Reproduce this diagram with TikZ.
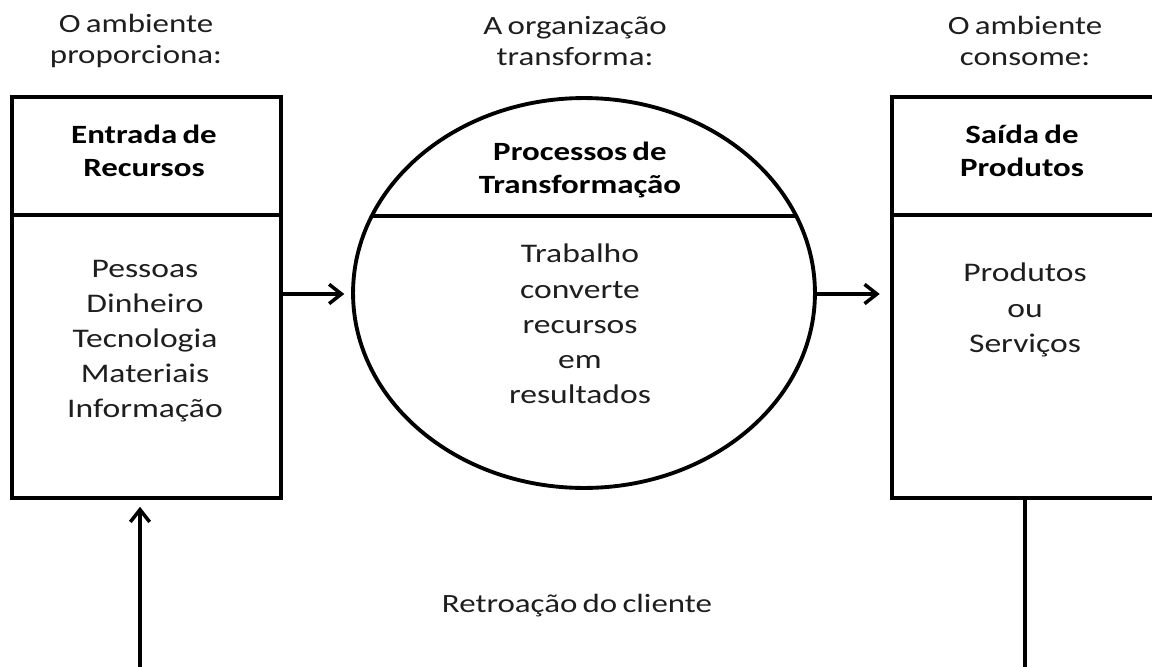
\documentclass[tikz,border=0pt]{standalone}
\usepackage{fontspec}
\setmainfont{Carlito}[FakeStretch=1.25,WordSpace=0.7]
\usepackage{xcolor}
\definecolor{Col1}{RGB}{30,30,30}
\usepackage{tikz}
\usetikzlibrary{shapes}
\usetikzlibrary{fit}
\usetikzlibrary{arrows.meta}
\tikzstyle{Box}=[draw,line width=2.2pt,inner sep=0pt,outer sep=0pt]
\tikzstyle{Oval}=[ellipse,draw,line width=2.2pt,inner sep=0pt,outer sep=0pt,
minimum width=9.24cm,minimum height=7.8cm]
\tikzstyle{Edge}=[line width=2.2pt]
\tikzstyle{Arrow}=[line width=2pt,-{Straight Barb[length=7pt,width=11pt]}]
\tikzstyle{NodeHead}=[font=\fontsize{15}{17.6}\selectfont,text=Col1,align=center]
\tikzstyle{NodeTitle}=[font=\fontsize{15}{18.7}\selectfont\bfseries,align=center]
\tikzstyle{NodeBody}=[font=\fontsize{15.3}{20}\selectfont,text=Col1,align=center]

\begin{document}
\begin{tikzpicture}[x=0.02cm,y=-0.02cm]
        \useasboundingbox(0,0)rectangle(1152,666);
        \clip(0,0)rectangle(1152,666);
        \node[NodeHead](h1)at(136,41){O ambiente\\proporciona:};
        \node[NodeHead](h2)at(575,41){A organização\\transforma:};
        \node[NodeHead](h3)at(1025,41){O ambiente\\consome:};
        \node[Box,fit={(12,97)(281,498)}](In){};
        \node[Oval](Proc)at(584,293){};
        \node[Box,fit={(892,97)(1158,498)}](Out){};
        \draw[Edge](In.west|-0,215)--(In.east|-0,215);
        \draw[Edge](Proc.160)--(Proc.20);
        \draw[Edge](Out.west|-0,215)--(Out.east|-0,215);
        \node[NodeTitle](t1)at(144,151){Entrada de\\Recursos};
        \node[NodeTitle](t2)at(580,170){Processos de\\Transformação};
        \node[NodeTitle](t3)at(1022,151){Saída de\\Produtos};
        \node[NodeBody](b1)at(145,341){Pessoas\\Dinheiro\\Tecnologia\\Materiais\\Informação};
        \node[NodeBody](b2)at(580,324){Trabalho\\converte\\recursos\\em\\resultados};
        \node[NodeBody](b3)at(1025,310){Produtos\\ou\\Serviços};
        \draw[Arrow,shorten >=5pt](In.east|-0,294)--(Proc.west|-0,294);
        \draw[Arrow,shorten >=7pt](Proc.east|-0,294)--(Out.west|-0,294);
        \coordinate(FbR)at(Out.south|-0,700);
        \coordinate(FbL)at(140,700);
        \draw[Arrow,shorten >=5pt](Out.south)--(FbR)--(FbL)--(In.south-|FbL);
        \node[NodeHead,anchor=base](fb)at(577,612){Retroação do cliente};
    \end{tikzpicture}
\end{document}
